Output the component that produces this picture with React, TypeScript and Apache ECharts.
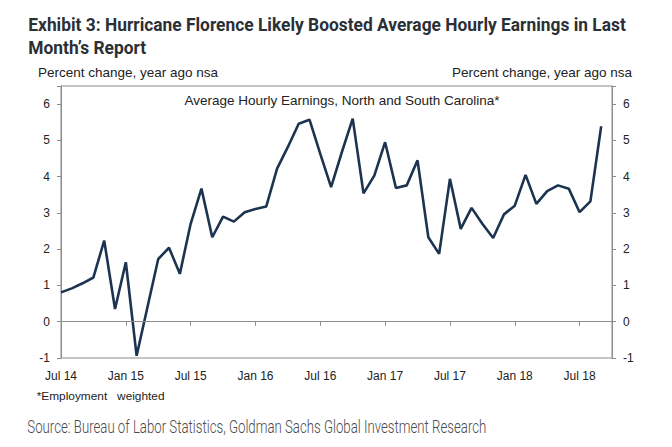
import React, { useEffect, useRef } from "react";
import * as echarts from "echarts";

const months: string[] = [];
const monthNames = ["Jan", "Feb", "Mar", "Apr", "May", "Jun", "Jul", "Aug", "Sep", "Oct", "Nov", "Dec"];
// Jul 2014 .. Oct 2018
for (let y = 2014, m = 6; y < 2018 || (y === 2018 && m <= 9); ) {
  months.push(`${monthNames[m]} ${String(y).slice(2)}`);
  m++;
  if (m > 11) { m = 0; y++; }
}

const earnings: (number | null)[] = [
  0.81, 0.92, 1.06, 1.22, 2.24, 0.35, 1.64, -0.94, 0.4, 1.73,
  2.04, 1.32, 2.7, 3.67, 2.33, 2.9, 2.76, 3.02, 3.11, 3.18,
  4.22, 4.82, 5.46, 5.57, 4.63, 3.71, 4.68, 5.6, 3.54, 4.03,
  4.95, 3.69, 3.76, 4.45, 2.33, 1.87, 3.94, 2.56, 3.14, 2.7,
  2.31, 2.96, 3.2, 4.05, 3.25, 3.6, 3.76, 3.67, 3.02, 3.32,
  5.39, null,
];

const yTicks = [-1, 0, 1, 2, 3, 4, 5, 6];

const titleLine1 = "Exhibit 3: Hurricane Florence Likely Boosted Average Hourly Earnings in Last";
const titleLine2 = "Month’s Report";
const axisName = "Percent change, year ago nsa";
const innerTitle = "Average Hourly Earnings, North and South Carolina*";
const footnote = "*Employment   weighted";
const source = "Source: Bureau of Labor Statistics, Goldman Sachs Global Investment Research";

function measure(text: string, font: string): number {
  const ctx = document.createElement("canvas").getContext("2d");
  if (!ctx) return 1;
  ctx.font = font;
  return ctx.measureText(text).width || 1;
}

export default function App() {
  const ref = useRef<HTMLDivElement>(null);
  useEffect(() => {
    if (!ref.current) return;
    const chart = echarts.init(ref.current, null, { renderer: "svg" });
    const axisColor = "#8c8c8c";
    const labelColor = "#222";
    const font = "'Liberation Sans', Arial, sans-serif";
    const titleFont = "bold 18.6px Roboto, 'Liberation Sans', sans-serif";
    const title1Scale = 598 / measure(titleLine1, titleFont);
    const title2Scale = title1Scale;
    const sourceFont = "300 19px Roboto, 'Liberation Sans', sans-serif";
    const sourceScale = 459 / measure(source, sourceFont);
    const footFont = `10.5px ${font}`;
    const footScale = 128 / measure(footnote, footFont);

    const yAxisCommon = {
      type: "value" as const,
      min: yTicks[0],
      max: 6.5,
      interval: 1,
      splitLine: { show: false },
      axisLine: { show: true, lineStyle: { color: axisColor, width: 1 } },
      axisTick: { show: true, inside: false, length: 4, lineStyle: { color: axisColor } },
      axisLabel: {
        color: labelColor,
        fontSize: 12,
        fontFamily: font,
        margin: 11,
        formatter: (v: number) => (Number.isInteger(v) ? String(v) : ""),
      },
    };
    chart.setOption({
      animation: false,
      backgroundColor: "#fff",
      grid: {
        left: 61,
        right: 60,
        top: 86,
        bottom: 89,
        show: true,
        borderColor: axisColor,
        borderWidth: 1,
      },
      xAxis: {
        type: "category",
        data: months,
        boundaryGap: false,
        axisLine: { show: true, lineStyle: { color: axisColor } },
        axisTick: { show: true, interval: 5, length: 4, lineStyle: { color: axisColor } },
        axisLabel: {
          interval: 5,
          color: labelColor,
          fontSize: 12,
          fontFamily: font,
          margin: 12,
        },
        splitLine: { show: false },
      },
      yAxis: [
        { ...yAxisCommon, position: "left" },
        { ...yAxisCommon, position: "right" },
      ],
      graphic: [
        {
          type: "text",
          x: 28.3,
          y: 24.6,
          scaleX: title1Scale,
          style: { text: titleLine1, fill: "#2b2f36", font: titleFont, verticalAlign: "middle", align: "left" },
        },
        {
          type: "text",
          x: 28.3,
          y: 47.2,
          scaleX: title2Scale,
          style: { text: titleLine2, fill: "#2b2f36", font: titleFont, verticalAlign: "middle", align: "left" },
        },
        {
          type: "text",
          x: 38,
          y: 72.5,
          style: { text: axisName, fill: labelColor, font: `13.5px ${font}`, verticalAlign: "middle", align: "left" },
        },
        {
          type: "text",
          x: 632,
          y: 72.5,
          style: { text: axisName, fill: labelColor, font: `13.5px ${font}`, verticalAlign: "middle", align: "right" },
        },
        {
          type: "text",
          x: 342,
          y: 100,
          style: { text: innerTitle, fill: labelColor, font: `13.5px ${font}`, verticalAlign: "middle", align: "center" },
        },
        {
          type: "text",
          x: 36.7,
          y: 395.8,
          scaleX: footScale,
          style: { text: footnote, fill: labelColor, font: footFont, verticalAlign: "middle", align: "left" },
        },
        {
          type: "text",
          x: 27.3,
          y: 427,
          scaleX: sourceScale,
          style: { text: source, fill: "#4a4a4a", font: sourceFont, verticalAlign: "middle", align: "left" },
        },
      ],
      series: [
        {
          type: "line",
          data: earnings,
          yAxisIndex: 0,
          symbol: "none",
          lineStyle: { color: "#1d3450", width: 2.6 },
          markLine: {
            silent: true,
            symbol: "none",
            label: { show: false },
            lineStyle: { color: axisColor, type: "solid", width: 1 },
            data: [{ yAxis: 0 }],
          },
        },
      ],
    });
    return () => chart.dispose();
  }, []);
  return <div ref={ref} style={{ width: 672, height: 447, margin: -8 }} />;
}
